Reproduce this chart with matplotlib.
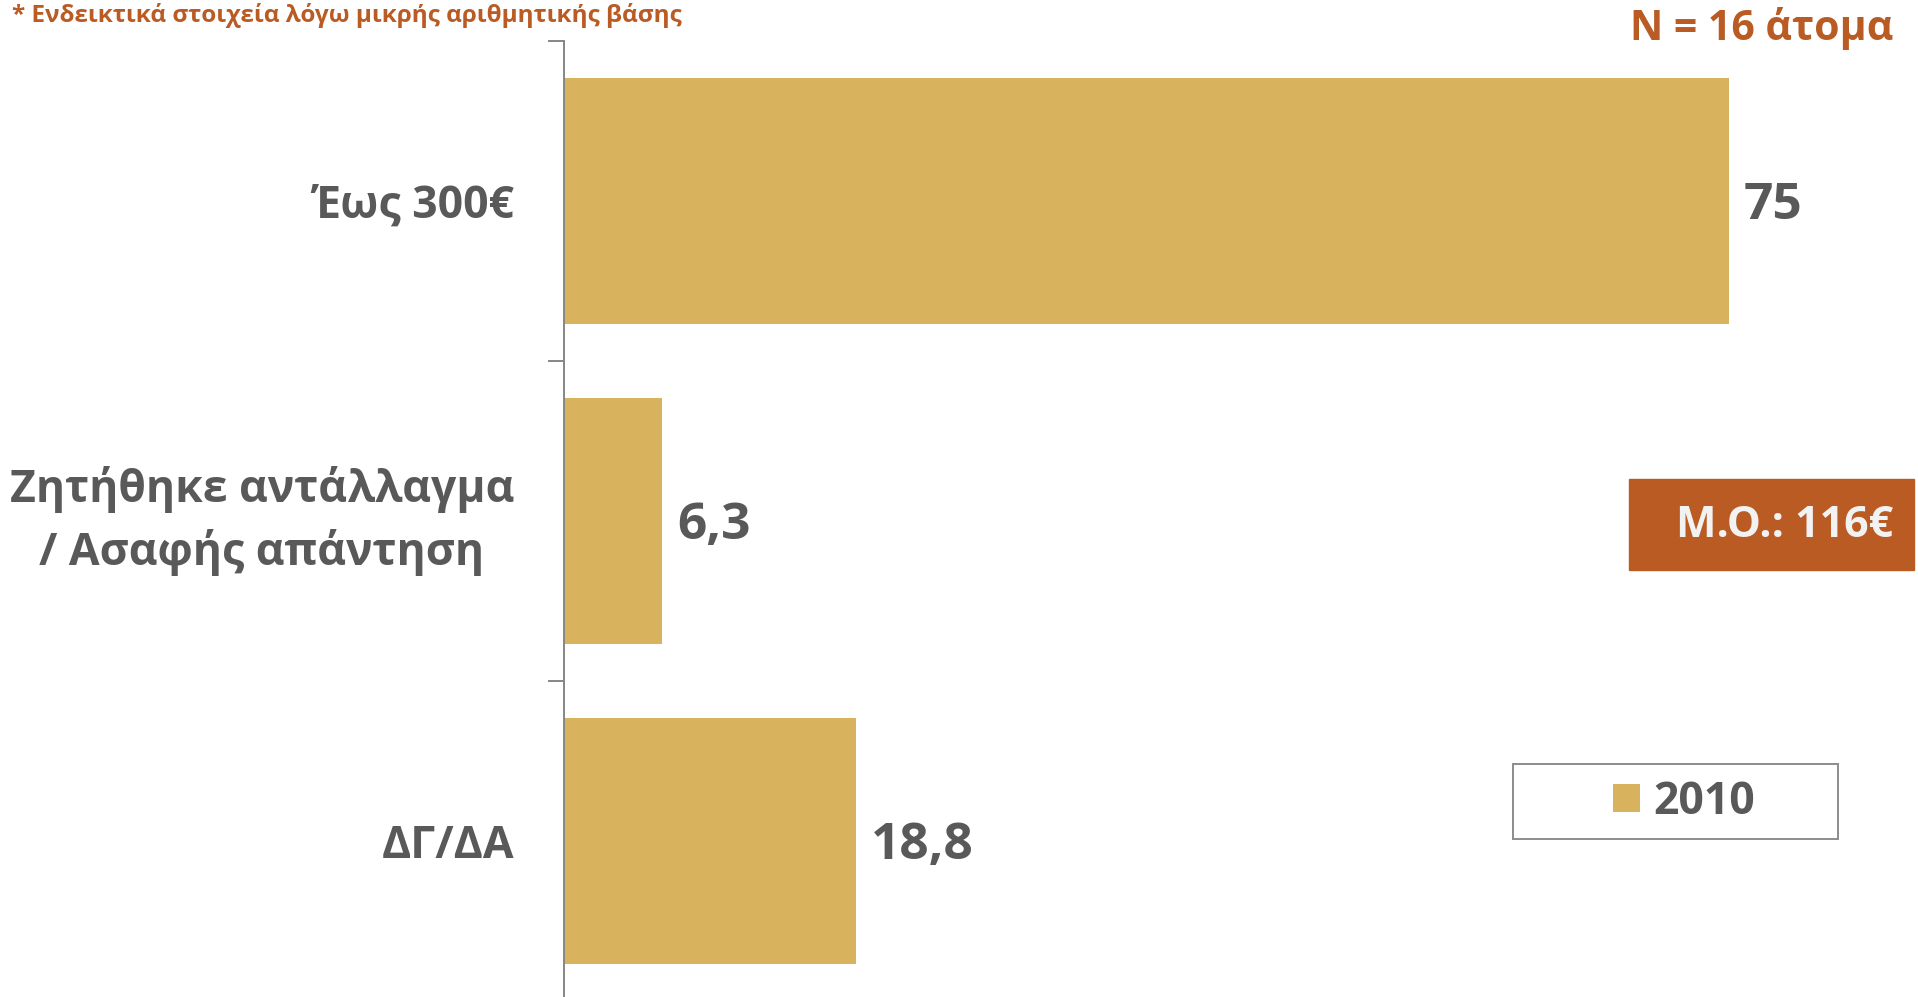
import matplotlib.pyplot as plt
from matplotlib.patches import Rectangle

plt.rcParams['font.family'] = ['Open Sans', 'Noto Sans', 'DejaVu Sans']
plt.rcParams['font.weight'] = 'bold'

# δεδομένα
kathgories = ["Έως 300€", "Ζητήθηκε αντάλλαγμα\n/ Ασαφής απάντηση", "ΔΓ/ΔΑ"]
pososta = [75, 6.3, 18.8]
etos = "2010"
shmeiwsh = "* Ενδεικτικά στοιχεία λόγω μικρής αριθμητικής βάσης"
deigma = "N = 16 άτομα"
mesos_oros = "M.O.: 116€"

xrwma_bar = '#D8B25C'
gkri = '#595959'
portokali = '#B95B23'

W, H = 1918, 997
fig = plt.figure(figsize=(W / 100, H / 100), dpi=100)
ax = fig.add_axes([564 / W, -4 / H, (W - 564) / W, 960 / H])

y = list(range(len(kathgories)))
bars = ax.barh(y, pososta, height=0.77, color=xrwma_bar, label=etos)

for b, v in zip(bars, pososta):
    ax.annotate("{:g}".format(v).replace('.', ','),
                (b.get_width(), b.get_y() + b.get_height() / 2),
                xytext=(11, -3.5), textcoords='offset points',
                ha='left', va='center', fontsize=37, color=gkri, fontweight='bold')

ax.set_xlim(0, 87.2)
ax.set_ylim(2.5, -0.5)
ax.set_yticks(y)
ax.set_yticklabels(kathgories, fontsize=32, color=gkri, fontweight='bold')
for lbl in ax.get_yticklabels():
    lbl.set_multialignment('center')
    lbl.set_linespacing(1.45)
    if '\n' in lbl.get_text():
        lbl.set_verticalalignment('center')
ax.set_yticks([-0.5, 0.5, 1.5, 2.5], minor=True)
ax.tick_params(axis='y', which='major', length=0, pad=36)
ax.tick_params(axis='y', which='minor', length=11.5, width=1.4, color='#868686')
ax.tick_params(axis='x', bottom=False, labelbottom=False)
for s in ['top', 'right', 'bottom']:
    ax.spines[s].set_visible(False)
ax.spines['left'].set_color('#868686')
ax.spines['left'].set_linewidth(1.4)

# σημειώσεις
fig.text(12 / W, 1 - 15 / H, shmeiwsh, ha='left', va='center',
         fontsize=17.5, color=portokali, fontweight='bold')
fig.text(1893 / W, 1 - 29 / H, deigma, ha='right', va='center',
         fontsize=29.5, color=portokali, fontweight='bold')

# κουτί μέσου όρου
fig.patches.append(Rectangle((1629 / W, 1 - 570 / H), 285 / W, 91 / H,
                             transform=fig.transFigure, color=portokali, zorder=0))
fig.text(1893 / W, 1 - 525 / H, mesos_oros, ha='right', va='center',
         fontsize=31, color='#F2F2F2', fontweight='bold')

# υπόμνημα
fig.patches.append(Rectangle((1513 / W, 1 - 839 / H), 325 / W, 75 / H,
                             transform=fig.transFigure, fill=False,
                             edgecolor='#8C8C8C', linewidth=1.4))
fig.legend(handles=[bars], labels=[etos], loc='center',
           bbox_to_anchor=(1684 / W, 1 - 802 / H), frameon=False,
           prop={'size': 32, 'weight': 'bold'}, labelcolor=gkri,
           handlelength=0.6, handleheight=0.6, handletextpad=0.3)

fig.savefig('out.png', dpi=100)
